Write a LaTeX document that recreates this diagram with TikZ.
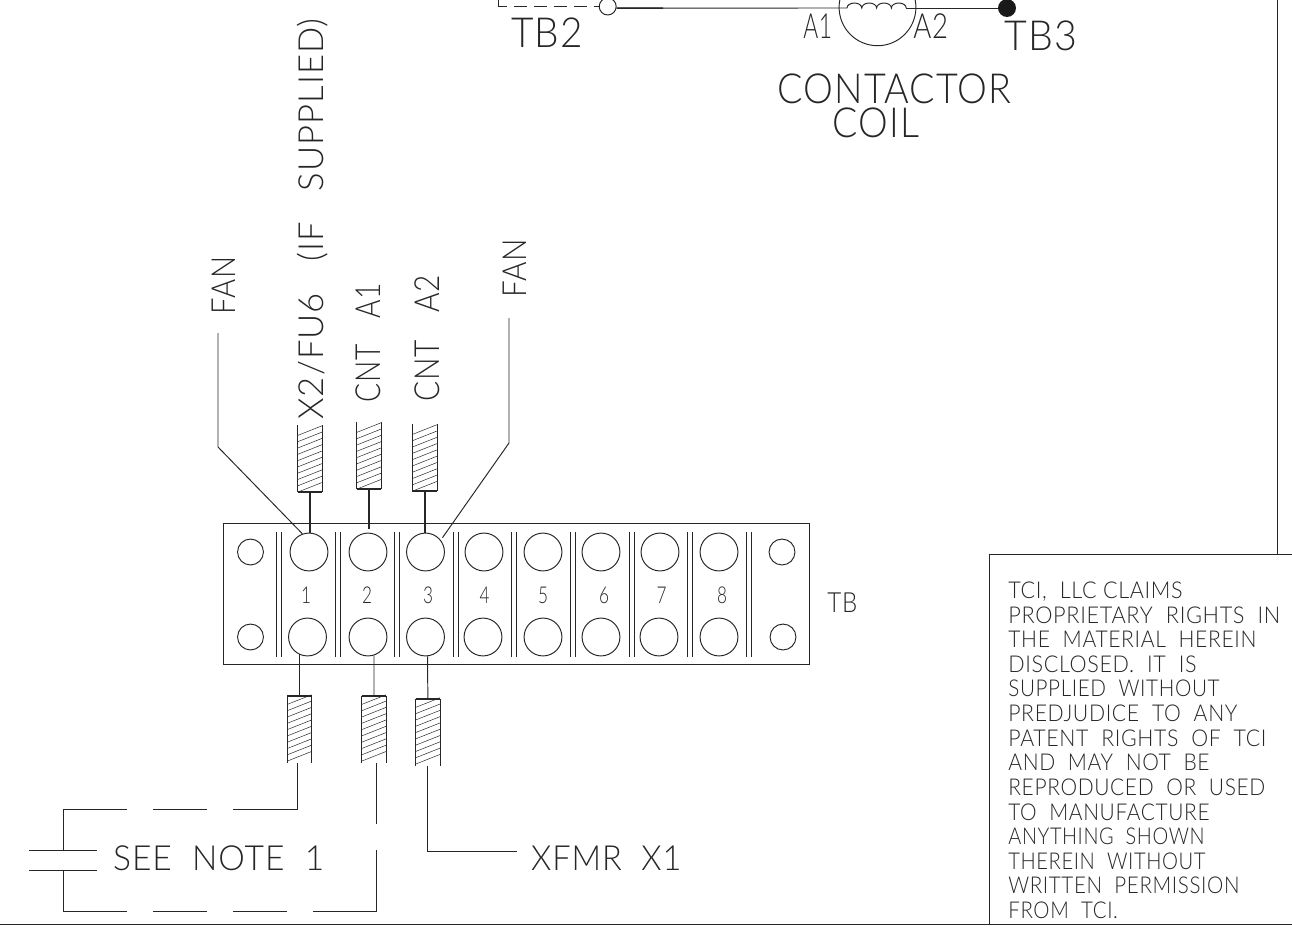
\documentclass[tikz,border=0pt]{standalone}
\usepackage{fontspec}
\usepackage{graphicx}
\newfontfamily\cadfont[LetterSpace=3]{Lato Light}
\usepackage{tikz}
\newcommand{\myunit}{*0.567pt}
\newdimen\pxu \pxu=0.567pt
\newcommand{\fitw}[2]{\resizebox{#1\pxu}{\height}{#2}}
\tikzset{
  wire/.style={line width=0.55pt, black!85},
  thickwire/.style={line width=0.85pt, black!85},
  big/.style={circle, draw=black!85, line width=0.55pt, minimum size=38\myunit, inner sep=0pt},
  small/.style={circle, draw=black!85, line width=0.55pt, minimum size=26\myunit, inner sep=0pt},
  term/.style={minimum width=24\myunit, minimum height=67\myunit, inner sep=0pt},
  lab/.style={inner sep=0pt, anchor=base west, font=\cadfont\fontsize{#1}{#1}\selectfont, text=black!85},
  vlab/.style={lab=#1, rotate=90},
}
\begin{document}
\begin{tikzpicture}[x=0.02cm, y=-0.02cm]
\useasboundingbox (0,0) rectangle (1292,934);
% top line
\node[circle, draw=black!85, line width=0.55pt, minimum size=17\myunit, inner sep=0pt] (tbtwo) at (607.7,6.5) {};
\node[circle, fill=black!90, minimum size=18\myunit, inner sep=0pt] (tbthree) at (1007,8) {};
\coordinate (cl) at (847,8);
\coordinate (cr) at (906,8);
\coordinate (hook) at (498,0);
\coordinate (hooka) at (498,6.5);
\coordinate (hookb) at (507,6.5);
\coordinate (hookc) at (514,6.5);
\coordinate (thick) at (663,8);
\draw[wire] (tbtwo.-10) -- (cl);
\draw[thickwire] (tbtwo.-10) -- (thick);
\draw[wire] (cr) -- (tbthree.west);
\draw[wire] (hook) -- (hooka) -- (hookb);
\draw[wire, dash pattern=on 13\myunit off 7\myunit] (hookc) -- (tbtwo.west);
\draw[wire] (cl) arc (180:360:7.4 and 5) arc (180:360:7.4 and 5) arc (180:360:7.4 and 5) arc (180:360:7.4 and 5);
\draw[wire] (877.5,7.3) circle (38.4);
\node[lab=23.6] (tbtwolab) at (510.7,47) {\fitw{72}{TB2}};
\node[lab=19.7] (aone) at (803,38) {\fitw{29}{A1}};
\node[lab=19.7] (atwo) at (913,38) {\fitw{35}{A2}};
\node[lab=23.6] (tbthreelab) at (1004,50) {\fitw{73}{TB3}};
\node[lab=23.6] (contactor) at (777,103) {\fitw{235}{CONTACTOR}};
\node[lab=23.6] (coil) at (832,137) {\fitw{87}{COIL}};
% right side and bottom
\coordinate (rt) at (1277,0);
\coordinate (rb) at (1277,554);
\coordinate (nb) at (989,924);
\coordinate (nt) at (989,554);
\coordinate (ne) at (1292,554);
\coordinate (bl) at (0,924);
\coordinate (br) at (1292,924);
\draw[wire] (rt) -- (rb);
\draw[wire] (nb) -- (nt) -- (ne);
\draw[wire] (bl) -- (br);
\node[lab=13.2] (n1) at (1008,598.3) {\fitw{175}{TCI,~~LLC CLAIMS}};
\node[lab=13.2] (n2) at (1008,623) {\fitw{273}{PROPRIETARY~~RIGHTS~~IN}};
\node[lab=13.2] (n3) at (1008,647.5) {\fitw{249}{THE~~MATERIAL~~HEREIN}};
\node[lab=13.2] (n4) at (1008,672) {\fitw{189}{DISCLOSED.~~IT~~IS}};
\node[lab=13.2] (n5) at (1008,696.7) {\fitw{212}{SUPPLIED~~WITHOUT}};
\node[lab=13.2] (n6) at (1008,721.3) {\fitw{230}{PREDJUDICE~~TO~~ANY}};
\node[lab=13.2] (n7) at (1008,746) {\fitw{259}{PATENT~~RIGHTS~~OF~~TCI}};
\node[lab=13.2] (n8) at (1008,770.5) {\fitw{202}{AND~~MAY~~NOT~~BE}};
\node[lab=13.2] (n9) at (1008,795) {\fitw{258}{REPRODUCED~~OR~~USED}};
\node[lab=13.2] (n10) at (1008,820) {\fitw{202}{TO~~MANUFACTURE}};
\node[lab=13.2] (n11) at (1008,844) {\fitw{197}{ANYTHING~~SHOWN}};
\node[lab=13.2] (n12) at (1008,869) {\fitw{198}{THEREIN~~WITHOUT}};
\node[lab=13.2] (n13) at (1008,893.5) {\fitw{232}{WRITTEN~~PERMISSION}};
\node[lab=13.2] (n14) at (1008,918) {\fitw{110}{FROM~~TCI.}};
% terminal block
\node[draw=black!85, line width=0.65pt, minimum width=589\myunit, minimum height=142\myunit, inner sep=0pt] (tb) at (516.5,594) {};
\node[lab=15.8] (tblab) at (827,612) {\fitw{30}{TB}};
\node[small] (sa) at (250.5,552) {};
\node[small] (sb) at (250.5,637) {};
\node[small] (sc) at (782,552) {};
\node[small] (sd) at (783,637) {};
\foreach \i/\xa/\xb/\xn in {1/309/307.5/306,2/368/368/367,3/425.5/425.5/428,4/484/483/484.7,5/543/543/543,6/601/601/604,7/660/659/661.5,8/719/719/722}{
  \node[big] (u\i) at (\xa,552) {};
  \node[big] (d\i) at (\xb,637) {};
  \node[lab=13.2, anchor=base] (num\i) at (\xn,603.5) {\fitw{10}{\i}};
}
\foreach \x in {276,335.5,394.5,453,511.7,570.5,629,687.5,746}{
  \draw[wire] (\x,532) -- (\x,657);
  \draw[wire] (\x+5,532) -- (\x+5,657);
}
% hatched terminals
\foreach \nm/\x/\y/\off in {ta/310/458.5/0,tb/369/455.5/0,tc/424.75/457.5/0,ba/299.5/729.5/2,bb/374/729.5/2,bc/427.85/732.5/2}{
  \node[term] (\nm) at (\x,\y) {};
  \draw[wire] (\nm.north west) -- (\nm.south west);
  \draw[wire] (\nm.north east) -- (\nm.south east);
  \foreach \k in {0,...,9}
    \draw[line width=0.28pt, black!85] (\x-12,\y+33.5-\off-\k*6.3) -- (\x+12,\y+24-\off-\k*6.3);
}
\draw[thickwire] (ta.south west) -- (ta.south east);
\draw[thickwire] (tb.south west) -- (tb.south east);
\draw[thickwire] (tc.south west) -- (tc.south east);
\draw[thickwire] (ba.north west) -- (ba.north east);
\draw[thickwire] (bb.north west) -- (bb.north east);
\draw[thickwire] (bc.north west) -- (bc.north east);
% wires to block
\draw[thickwire] (ta.south) -- (ta.south|-u1.north);
\draw[thickwire, shorten >=4\myunit] (tb.south) -- (tb.south|-u2.north);
\draw[thickwire] (tc.south) -- (tc.south|-u3.north);
\coordinate (fanla) at (218,333);
\coordinate (fanlb) at (218,447);
\coordinate (fanra) at (509,318);
\coordinate (fanrb) at (509,443);
\draw[wire] (fanla) -- (fanlb) -- (u1.110);
\draw[wire, shorten >=3\myunit] (fanra) -- (fanrb) -- (u3.38);
\draw[wire] (d1.-116) -- (ba.north-|d1.-116);
\draw[wire] (d2.-72) -- (bb.north);
\draw[wire] (d3.-84) -- (bc.north);
% lower wiring
\coordinate (taila) at (297,763);
\coordinate (cornera) at (297,809);
\coordinate (tailb) at (376,763);
\coordinate (gapb) at (376,824);
\coordinate (gapc) at (376,850);
\coordinate (cornerb) at (376,911);
\coordinate (tl) at (63,809);
\coordinate (tm) at (63,850);
\coordinate (bm) at (63,870);
\coordinate (bo) at (63,911);
\coordinate (pa) at (29,850);
\coordinate (pb) at (97,850);
\coordinate (pc) at (29,870);
\coordinate (pd) at (97,870);
\draw[wire] (taila) -- (cornera) -- (233,809);
\draw[wire] (207,809) -- (153,809);
\draw[wire] (127,809) -- (tl) -- (tm);
\draw[wire] (pa) -- (pb);
\draw[wire] (pc) -- (pd);
\draw[wire] (bm) -- (bo) -- (127,911);
\draw[wire] (153,911) -- (207,911);
\draw[wire] (233,911) -- (287,911);
\draw[wire] (313,911) -- (cornerb) -- (gapc);
\draw[wire] (gapb) -- (tailb);
\node[lab=19.7] (note) at (112.7,870) {\fitw{212}{SEE~~NOTE~~1}};
\node[lab=19.7] (xfmr) at (530.7,870) {\fitw{151}{XFMR~~X1}};
\coordinate (xf) at (517,851);
\draw[wire] (bc.south) -- (bc.south|-xf) -- (xf);
% vertical labels
\node[vlab=18.9] (fanl) at (235,315) {\fitw{58}{FAN}};
\node[vlab=18.9] (fanr) at (526,298) {\fitw{59}{FAN}};
\node[vlab=19.7] (xtwo) at (323,420) {\fitw{403}{X2/FU6~~~(IF~~~SUPPLIED)}};
\node[vlab=19.7] (cnta) at (380,403) {\fitw{120}{CNT~~~A1}};
\node[vlab=19.7] (cntb) at (439,402) {\fitw{127}{CNT~~~A2}};
\end{tikzpicture}
\end{document}
